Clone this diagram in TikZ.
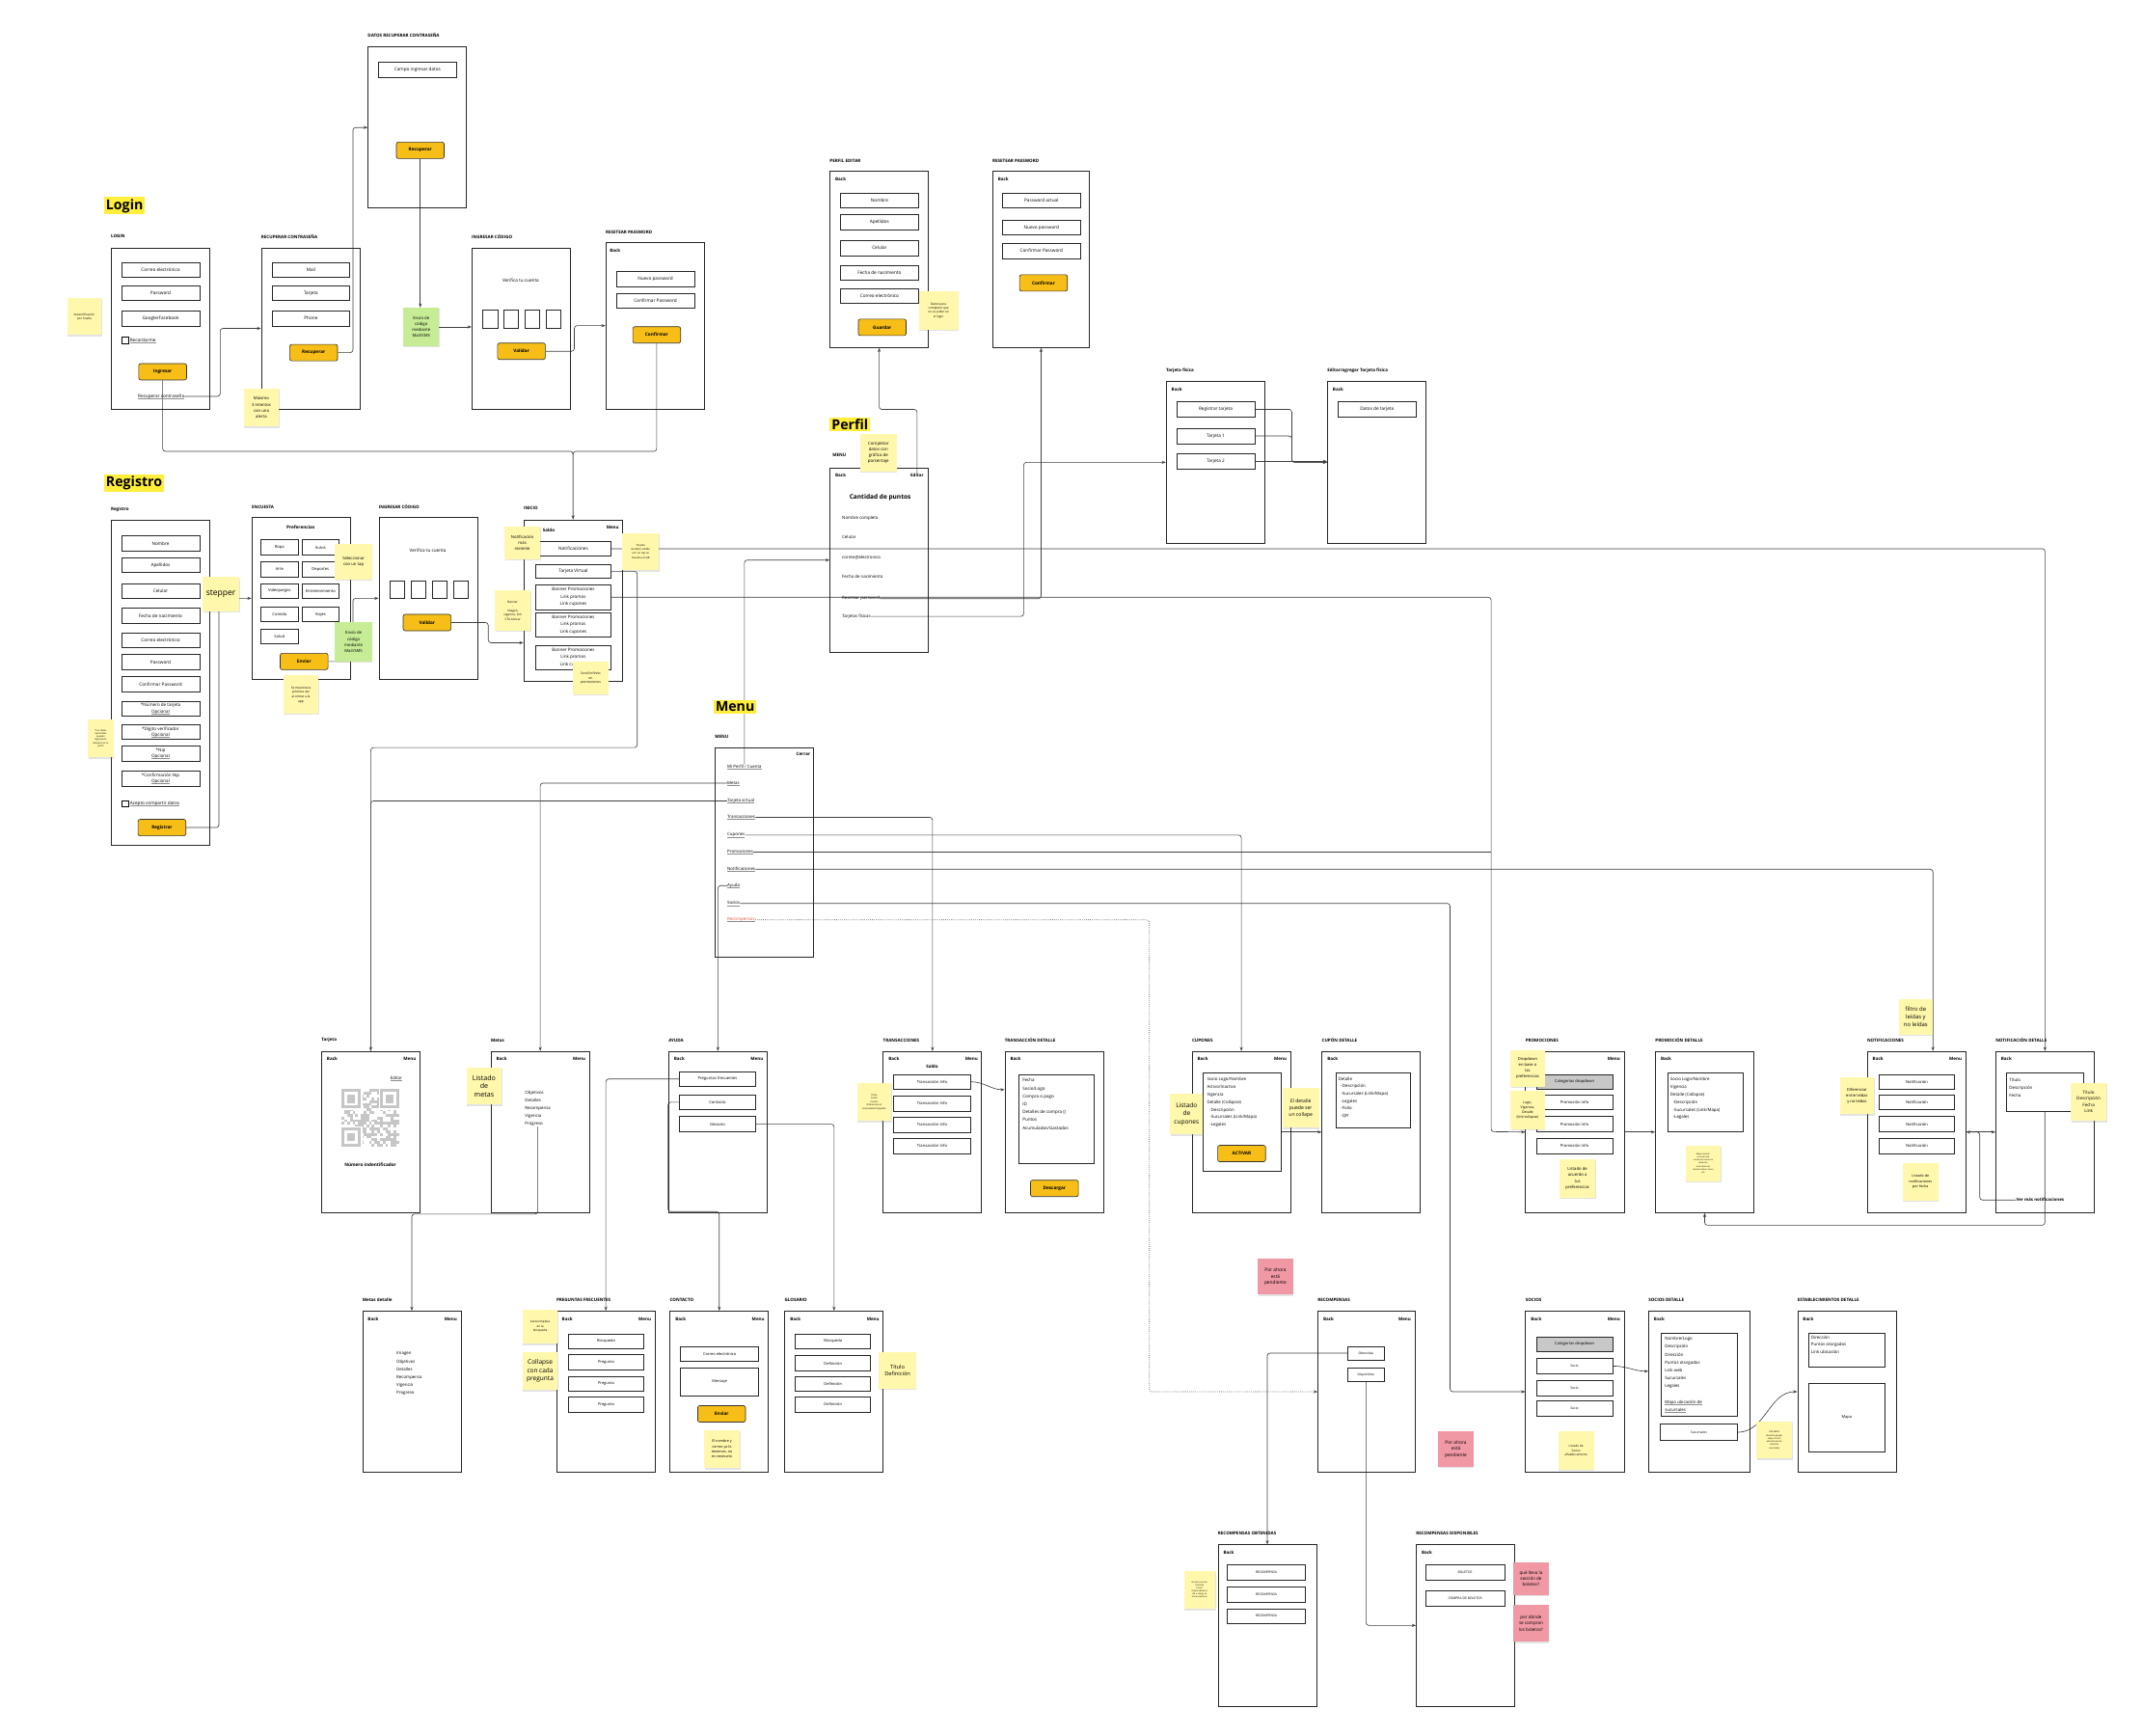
\documentclass[tikz,border=0pt]{standalone}
\usepackage{fontspec}
\setmainfont{Open Sans}
\usetikzlibrary{arrows.meta,shadows,positioning}
\pgfdeclarelayer{bg}
\pgfsetlayers{bg,main}
\definecolor{btnyellow}{RGB}{246,190,22}
\definecolor{noteyellow}{RGB}{255,248,172}
\definecolor{notegreen}{RGB}{198,236,150}
\definecolor{notepink}{RGB}{240,152,164}
\definecolor{titleyellow}{RGB}{255,238,60}
\definecolor{linkred}{RGB}{222,86,60}
\definecolor{qrgray}{RGB}{198,198,198}
\definecolor{dropgray}{RGB}{200,200,200}
\newcommand{\fnt}[2]{\fontsize{#1}{#2}\selectfont}
\newcommand{\undl}[1]{\leavevmode\setbox0\hbox{#1}\rlap{\color{black!45}\rule[-0.3ex]{\wd0}{0.05ex}}\box0}
\tikzset{
  screen/.style={draw=black!85, line width=0.55pt, anchor=north west, minimum width=72pt, minimum height=118pt, inner sep=0pt},
  scrlabel/.style={anchor=west, inner sep=0pt, font=\fnt{3.2}{4}\bfseries},
  topl/.style={anchor=west, inner sep=0pt, font=\fnt{3.2}{4}\bfseries},
  topr/.style={anchor=east, inner sep=0pt, font=\fnt{3.2}{4}\bfseries},
  field/.style={draw=black!85, line width=0.45pt, minimum width=57pt, minimum height=11pt, inner sep=0pt, align=center, font=\fnt{3.3}{4.2}},
  btn/.style={draw=black!80, fill=btnyellow, line width=0.45pt, rounded corners=1.5pt, minimum width=35pt, minimum height=12pt, inner sep=0pt, font=\fnt{3.3}{4}\bfseries},
  txt/.style={inner sep=0pt, font=\fnt{3.3}{4.2}},
  block/.style={anchor=north west, inner sep=0pt, align=left, font=\fnt{3.2}{5.8}},
  innerbox/.style={draw=black!85, line width=0.45pt, anchor=north west, inner sep=0pt},
  chk/.style={draw, line width=0.4pt, minimum size=4.5pt, inner sep=0pt},
  sq/.style={draw=black!85, line width=0.45pt, minimum width=11pt, minimum height=13pt, inner sep=0pt},
  note/.style={fill=noteyellow, anchor=north west, inner sep=0pt, align=center, minimum width=26pt, minimum height=27pt, font=\fnt{3}{4.4}, drop shadow={shadow xshift=0.4pt, shadow yshift=-0.9pt, opacity=0.22}},
  sectitle/.style={fill=titleyellow, anchor=north west, inner sep=1.4pt, font=\fnt{10}{11}\bfseries},
  conn/.style={draw=black!75, line width=0.45pt, rounded corners=2pt, -{Stealth[length=3pt,width=2.2pt]}},
  wire/.style={draw=black!75, line width=0.45pt, rounded corners=2pt}
}

\begin{document}
\begin{tikzpicture}[x=1pt,y=-1pt]
\useasboundingbox (0,0) rectangle (1568,1270);
\begin{pgfonlayer}{bg}
\fill[white] (0,0) rectangle (1568,1270);
\end{pgfonlayer}

% Login
\node[sectitle] (t-login) at (76,144) {Login};
\node[scrlabel] (l-login) at (81,173) {LOGIN};
\node[screen] (login) at (81,181) {};
\node[field] (lg-mail) at (117.5,197.5) {Correo electrónico};
\node[field] (lg-pass) at (117.5,214.5) {Password};
\node[field] (lg-goog) at (117.5,233) {Google/Facebook};
\node[chk] (lg-chk) at (91.5,249) {};
\node[txt, right=1pt of lg-chk] (lg-rec) {\undl{Recordarme}};
\node[btn] (lg-btn) at (119,272) {Ingresar};
\node[txt] (lg-forgot) at (118,290) {\undl{Recuperar contraseña}};
\node[note, minimum width=25pt, font=\fnt{2.2}{3}] (n-huella) at (49,218) {Autentificación\\por huella};

\node[scrlabel] (l-recup) at (191,173) {RECUPERAR CONTRASEÑA};
\node[screen] (recup) at (191,181) {};
\node[field] (rc-mail) at (227.5,197.5) {Mail};
\node[field] (rc-tarj) at (227.5,214.5) {Tarjeta};
\node[field] (rc-phone) at (227.5,233) {Phone};
\node[btn] (rc-btn) at (229.5,258) {Recuperar};
\node[note, minimum height=28pt] (n-max) at (178,284) {Máximo\\3 intentos\\con una\\alerta};

\node[scrlabel] (l-datos) at (269,26) {DATOS RECUPERAR CONTRASEÑA};
\node[screen] (datos) at (269,34) {};
\node[field] (dt-campo) at (305.5,51) {Campo ingresar datos};
\node[btn] (dt-btn) at (307.5,110) {Recuperar};
\node[note, fill=notegreen, minimum height=28pt] (n-sms1) at (295,225) {Envío de\\código\\mediante\\Mail/SMS};

\node[scrlabel] (l-code1) at (345,173) {INGRESAR CÓDIGO};
\node[screen] (code1) at (345,181) {};
\node[txt] (cd1-txt) at (381,205) {Verifica tu cuenta};
\foreach \i in {0,...,3}
  \node[sq] (cd1-sq\i) at (358.5+15.5*\i,233.5) {};
\node[btn] (cd1-btn) at (381.5,257) {Validar};

\node[scrlabel] (l-reset1) at (443,170) {RESETEAR PASSWORD};
\node[screen, minimum height=122pt] (reset1) at (443,177) {};
\node[topl] (rs1-back) at (446,183) {Back};
\node[field] (rs1-new) at (479.5,204) {Nuevo password};
\node[field] (rs1-conf) at (479.5,220) {Confirmar Password};
\node[btn] (rs1-btn) at (480.5,245) {Confirmar};

% Registro
\node[sectitle] (t-reg) at (76,347) {Registro};
\node[scrlabel] (l-reg) at (81,373) {Registro};
\node[screen, minimum height=238pt] (registro) at (81,380) {};
\foreach \nm/\tx/\yy in {nom/Nombre/397.5, ape/Apellidos/413.5, cel/Celular/432.5, fec/Fecha de nacimiento/450.5, mail/Correo electrónico/468.5, pass/Password/484.5, conf/Confirmar Password/500.5}
  \node[field] (rg-\nm) at (117.5,\yy) {\tx};
\foreach \nm/\tx/\yy in {tarj/*Número de tarjeta/518.5, dig/*Dígito verificador/535.5, nip/*Nip/551.5, cnip/*Confirmación Nip/569.5}
  \node[field, font=\fnt{3.2}{4.3}] (rg-\nm) at (117.5,\yy) {\tx\\\undl{Opcional}};
\node[chk] (rg-chk) at (91.5,588) {};
\node[txt, right=1pt of rg-chk] (rg-acept) {\undl{Acepto compartir datos}};
\node[btn] (rg-btn) at (118.5,605.5) {Registrar};
\node[note, minimum width=27pt, minimum height=25pt, font=\fnt{6}{7}] (n-stepper) at (148,422) {stepper};
\node[note, minimum width=19pt, minimum height=28pt, font=\fnt{1.7}{2.3}] (n-opc) at (64,526) {*Los datos\\opcionales\\pueden\\ingresarlos\\después en tu\\perfil};

\node[scrlabel] (l-enc) at (184,371) {ENCUESTA};
\node[screen, minimum height=119pt] (encuesta) at (184,378) {};
\node[txt, font=\fnt{3.3}{4}\bfseries] (en-pref) at (220,386) {Preferencias};
\foreach \nm/\tx/\xx/\yy in {ropa/Ropa/204.5/400.5, autos/Autos/234.5/400.5, arte/Arte/204.5/416.5, dep/Deportes/234.5/416.5, video/Videojuegos/204.5/432.5, entre/Entretenimiento/234.5/432.5, com/Comida/204.5/449.5, viaj/Viajes/234.5/449.5, salud/Salud/204.5/465.5}
  \node[field, minimum width=27pt, font=\fnt{2.9}{4}] (en-\nm) at (\xx,\yy) {\tx};
\node[btn] (en-btn) at (222.5,484) {Enviar};
\node[note, minimum width=27pt, minimum height=26pt] (n-tap) at (245,398) {Seleccionar\\con un tap};
\node[note, fill=notegreen, minimum width=27pt, minimum height=29pt] (n-sms2) at (245,455) {Envío de\\código\\mediante\\Mail/SMS};
\node[note, minimum height=28pt, font=\fnt{2.3}{3.3}] (n-prim) at (207,494) {Se muestra la\\primera vez\\al entrar a la\\app};

\node[scrlabel] (l-code2) at (277,371) {INGRESAR CÓDIGO};
\node[screen, minimum height=119pt] (code2) at (277,378) {};
\node[txt] (cd2-txt) at (313,403) {Verifica tu cuenta};
\foreach \i in {0,...,3}
  \node[sq] (cd2-sq\i) at (290.5+15.6*\i,431.5) {};
\node[btn] (cd2-btn) at (312.5,455.5) {Validar};

\node[scrlabel] (l-inicio) at (383,372) {INICIO};
\node[screen] (inicio) at (383,380) {};
\node[topl] (in-saldo) at (397,388) {Saldo};
\node[topr] (in-menu) at (453,386) {Menu};
\node[field, minimum width=55pt] (in-notif) at (419.5,401.5) {Notificaciones};
\node[field, minimum width=55pt, minimum height=10pt] (in-tv) at (419.5,418) {Tarjeta Virtual};
\foreach \i/\yy in {1/437, 2/457, 3/481}
  \node[field, minimum width=55pt, minimum height=18pt, font=\fnt{3.2}{5.3}] (in-ban\i) at (419.5,\yy) {Banner Promociones\\Link promos\\Link cupones};
\node[note, minimum height=24pt] (n-reciente) at (369,385) {Notificación\\más\\reciente};
\node[note, minimum width=27pt, font=\fnt{2}{2.9}] (n-qr) at (455,390) {Tarjeta\\siempre visible\\con un tap se\\muestra el QR};
\node[note, minimum height=29pt, font=\fnt{2.2}{3.2}] (n-banner) at (362,432) {Banner\\-\\Imagen,\\vigencia, link\\CTA Activar};
\node[note, minimum height=24pt, font=\fnt{2.4}{3.4}] (n-scroll) at (419,484) {Scroll infinito\\en\\promociones};

% Menu
\node[sectitle] (t-menu) at (522,512) {Menu};
\node[scrlabel] (l-menu) at (523,539) {MENU};
\node[screen, minimum height=153pt] (menu) at (523,547) {};
\node[topr] (mn-cerrar) at (593,552) {Cerrar};
\foreach \nm/\tx/\yy in {perfil/{Mi Perfil / Cuenta}/561, metas/Metas/573, tv/Tarjeta virtual/586, trans/Transacciones/598, cup/Cupones/611, promo/Promociones/623, notif/Notificaciones/636, ayuda/Ayuda/648, socios/Socios/661}
  \node[txt, anchor=west, font=\fnt{3.1}{4}] (mn-\nm) at (532,\yy) {\undl{\tx}};
\node[txt, anchor=west, font=\fnt{3.1}{4}, text=linkred] (mn-recomp) at (532,673) {\undl{Recompensas}};

% Perfil
\node[sectitle] (t-perfil) at (607,305) {Perfil};
\node[scrlabel] (l-perfil) at (609,333) {MENU};
\node[screen, minimum height=135pt] (perfil) at (607,342) {};
\node[topr] (pf-editar) at (676,348) {Editar};
\node[txt, font=\fnt{4.6}{5}\bfseries] (pf-puntos) at (644,364) {Cantidad de puntos};
\foreach \nm/\tx/\yy in {nom/Nombre completo/379, cel/Celular/393, mail/correo@electronico/408, fec/Fecha de nacimiento/422, reset/Resetear password/438, tf/Tarjetas físicas/451}
  \node[txt, anchor=west, font=\fnt{3.1}{4}] (pf-\nm) at (616,\yy) {\tx};
\node[note, minimum width=27pt, minimum height=28pt, font=\fnt{3.1}{4.4}] (n-compl) at (629,317) {Completar\\datos con\\gráfica de\\porcentaje};

\node[scrlabel] (l-pedit) at (607,118) {PERFIL EDITAR};
\node[screen, minimum height=129pt] (pedit) at (607,125) {};
\foreach \nm/\tx/\yy in {nom/Nombre/146.5, ape/Apellidos/162.5, cel/Celular/181.5, fec/Fecha de nacimiento/199.5, mail/Correo electrónico/216.5}
  \node[field] (pe-\nm) at (643.5,\yy) {\tx};
\node[btn] (pe-btn) at (645.5,239.5) {Guardar};
\node[note, minimum width=29pt, minimum height=28pt, font=\fnt{2.2}{3.1}] (n-datos) at (672,213) {Datos para\\completar que\\no se piden en\\el login};

\node[scrlabel] (l-reset2) at (726,118) {RESETEAR PASSWORD};
\node[screen, minimum height=129pt, minimum width=71pt] (reset2) at (726,125) {};
\node[field] (rs2-act) at (762,146.5) {Password actual};
\node[field] (rs2-new) at (762,166.5) {Nuevo password};
\node[field] (rs2-conf) at (762,183.5) {Confirmar Password};
\node[btn] (rs2-btn) at (763.5,207) {Confirmar};

\node[scrlabel] (l-tfis) at (853,271) {Tarjeta física};
\node[screen] (tfis) at (853,279) {};
\node[field] (tf-reg) at (889.5,299.5) {Registrar tarjeta};
\node[field] (tf-1) at (889.5,319) {Tarjeta 1};
\node[field] (tf-2) at (889.5,337.5) {Tarjeta 2};
\node[scrlabel] (l-tfedit) at (971,271) {Editar/agregar Tarjeta física};
\node[screen] (tfedit) at (971,279) {};
\node[field] (te-datos) at (1007.5,299.5) {Datos de tarjeta};

% fila 1
\node[scrlabel] (l-tarjeta) at (235,761) {Tarjeta};
\node[screen] (tarjeta) at (235,769) {};
\node[txt, font=\fnt{3.1}{4}] (tj-editar) at (290,789) {\undl{Editar}};
\pgfmathsetseed{7}
\foreach \i in {0,...,20}
  \foreach \j in {0,...,20}{
    \pgfmathtruncatemacro{\qb}{rnd<0.5 ? 1 : 0}
    \ifnum\qb=1 \fill[qrgray] (250+2*\i,797+2*\j) rectangle ++(2,2); \fi
  }
\foreach \qx/\qy in {250/797, 278/797, 250/825}{
  \fill[white] (\qx-1,\qy-1) rectangle ++(16,16);
  \fill[qrgray] (\qx,\qy) rectangle ++(14,14);
  \fill[white] (\qx+2,\qy+2) rectangle ++(10,10);
  \fill[qrgray] (\qx+4,\qy+4) rectangle ++(6,6);
}
\node[txt, font=\fnt{3.3}{4}\bfseries] (tj-num) at (271,852) {Número indentificador};

\node[scrlabel] (l-metas) at (359,761) {Metas};
\node[screen] (metas) at (359,769) {};
\node[block, font=\fnt{3.1}{5.7}] (mt-list) at (384,798) {Objetivos\\Detalles\\Recompensa\\Vigencia\\Progreso};
\node[note, font=\fnt{5}{6.2}] (n-metas) at (341,781) {Listado\\de\\metas};

\node[scrlabel] (l-ayuda) at (489,761) {AYUDA};
\node[screen] (ayuda) at (489,769) {};
\node[field, minimum width=56pt, font=\fnt{2.9}{4}] (ay-preg) at (525,789.5) {Preguntas frecuentes};
\node[field, minimum width=56pt, font=\fnt{2.9}{4}] (ay-cont) at (525,806.5) {Contacto};
\node[field, minimum width=56pt, font=\fnt{2.9}{4}] (ay-glos) at (525,822.5) {Glosario};

\node[scrlabel] (l-trans) at (646,761) {TRANSACCIONES};
\node[screen] (trans) at (646,769) {};
\node[txt, font=\fnt{3.2}{4}\bfseries] (tr-saldo) at (682,780) {Saldo};
\foreach \i/\yy in {1/791.5, 2/807.5, 3/823, 4/838.5}
  \node[field, minimum width=56pt, font=\fnt{2.9}{4}] (tr-\i) at (682,\yy) {Transacción Info};
\node[note, minimum width=25pt, minimum height=28pt, font=\fnt{1.7}{2.5}] (n-trans) at (627,792) {Título\\Fecha\\Puntos\\Diferenciar en\\Acumulado/Canjeado};

\node[scrlabel] (l-trdet) at (735,761) {TRANSACCIÓN DETALLE};
\node[screen] (trdet) at (735,769) {};
\node[innerbox, minimum width=55pt, minimum height=65pt] (td-inner) at (745,786) {};
\node[block] (td-list) at (748,789) {Fecha\\Socio/Logo\\Compra o pago\\ID\\Detalles de compra ()\\Puntos\\Acumulados/Gastados};
\node[btn] (td-btn) at (771.5,869.5) {Descargar};

\node[scrlabel] (l-cup) at (872,761) {CUPONES};
\node[screen] (cupones) at (872,769) {};
\node[innerbox, minimum width=57pt, minimum height=72pt] (cp-inner) at (880,785) {};
\node[block, font=\fnt{3.1}{5.6}] (cp-list) at (883,788) {Socio Logo/Nombre\\Activo/Inactivo\\Vigencia\\Detalle (Collapse)\\\hspace*{2pt}-Descripción\\\hspace*{2pt}-Sucursales (Link/Mapa)\\\hspace*{2pt}-Legales};
\node[btn] (cp-btn) at (908.5,844) {ACTIVAR};
\node[note, minimum width=24pt, minimum height=30pt, font=\fnt{4.6}{6}] (n-cuplist) at (856,800) {Listado\\de\\cupones};
\node[note, minimum width=27pt, minimum height=29pt, font=\fnt{3.6}{5}] (n-cupdet) at (938,796) {El detalle\\puede ser\\un collape};

\node[scrlabel] (l-cupdet) at (967,761) {CUPÓN DETALLE};
\node[screen] (cupdet) at (967,769) {};
\node[innerbox, minimum width=55pt, minimum height=40pt] (cd-inner) at (977,785) {};
\node[block, font=\fnt{3.1}{5.4}] (cd-list) at (979,788) {Detalle\\\hspace*{2pt}-Descripción\\\hspace*{2pt}-Sucursales (Link/Mapa)\\\hspace*{2pt}-Legales\\\hspace*{2pt}-Folio\\\hspace*{2pt}-QR};

\node[scrlabel] (l-promo) at (1116,761) {PROMOCIONES};
\node[screen] (promo) at (1116,769) {};
\node[field, minimum width=56pt, fill=dropgray, font=\fnt{2.9}{4}] (pr-cat) at (1152,791.5) {Categorías dropdown};
\foreach \i/\yy in {1/806.5, 2/822.5, 3/838.5}
  \node[field, minimum width=56pt, font=\fnt{2.9}{4}] (pr-\i) at (1152,\yy) {Promoción Info};

\node[scrlabel] (l-promodet) at (1211,761) {PROMOCIÓN DETALLE};
\node[screen] (promodet) at (1211,769) {};
\node[innerbox, minimum width=55pt, minimum height=43pt] (pd-inner) at (1220,785) {};
\node[block, font=\fnt{3.1}{5.6}] (pd-list) at (1222,788) {Socio Logo/Nombre\\Vigencia\\Detalle (Collapse)\\\hspace*{2pt}-Descripción\\\hspace*{2pt}-Sucursales (Link/Mapa)\\\hspace*{2pt}-Legales};
\node[note, minimum height=26pt, font=\fnt{1.5}{2.2}] (n-mapa) at (1233,838) {Mapa mostrar\\sucursal más\\cercana en base a la\\ubicación,\\mostrando las\\demás al hacer zoom\\out.};

\node[scrlabel] (l-notif) at (1366,761) {NOTIFICACIONES};
\node[screen] (notif) at (1366,769) {};
\foreach \i/\yy in {1/791.5, 2/806.5, 3/822.5, 4/838.5}
  \node[field, minimum width=55pt, font=\fnt{2.9}{4}] (nt-\i) at (1402.5,\yy) {Notificación};

\node[scrlabel] (l-notdet) at (1460,761) {NOTIFICACIÓN DETALLE};
\node[screen] (notdet) at (1460,769) {};
\node[innerbox, minimum width=56pt, minimum height=28pt] (nd-inner) at (1468,785) {};
\node[block, font=\fnt{3.1}{5.6}] (nd-list) at (1470,789) {Título\\Descripción\\Fecha};
\node[txt, anchor=west, font=\fnt{3.1}{4}\bfseries] (nd-vermas) at (1475,878) {Ver más notificaciones};

% fila 2
\node[scrlabel] (l-metasdet) at (265,951) {Metas detalle};
\node[screen] (metasdet) at (265,959) {};
\node[block, font=\fnt{3.1}{5.7}] (md-list) at (290,989) {Imagen\\Objetivos\\Detalles\\Recompensa\\Vigencia\\Progreso};

\node[scrlabel] (l-preg) at (407,951) {PREGUNTAS FRECUENTES};
\node[screen] (preg) at (407,959) {};
\node[field, minimum width=55pt, font=\fnt{2.8}{4}] (pq-busq) at (443.5,981.5) {Búsqueda};
\foreach \i/\yy in {1/996.5, 2/1012.5, 3/1027.5}
  \node[field, minimum width=55pt, font=\fnt{2.8}{4}] (pq-\i) at (443.5,\yy) {Pregunta};

\node[scrlabel] (l-cont) at (490,951) {CONTACTO};
\node[screen] (cont) at (490,959) {};
\node[field, font=\fnt{2.8}{4}] (ct-mail) at (526.5,990.5) {Correo electrónico};
\node[field, minimum height=20pt, font=\fnt{2.8}{4}] (ct-msg) at (526.5,1011) {Mensaje};
\node[btn] (ct-btn) at (528,1034.5) {Enviar};

\node[scrlabel] (l-glos) at (574,951) {GLOSARIO};
\node[screen] (glos) at (574,959) {};
\node[field, minimum width=55pt, font=\fnt{2.8}{4}] (gl-busq) at (609.5,981.5) {Búsqueda};
\foreach \i/\yy in {1/997.5, 2/1012.5, 3/1027.5}
  \node[field, minimum width=55pt, font=\fnt{2.8}{4}] (gl-\i) at (609.5,\yy) {Definición};

\node[scrlabel] (l-recomp) at (964,951) {RECOMPENSAS};
\node[screen, minimum width=71pt] (recomp) at (964,959) {};
\node[field, minimum width=27pt, minimum height=10pt, font=\fnt{2.3}{3}] (rc-obt) at (999.5,990) {Obtenidas};
\node[field, minimum width=27pt, minimum height=10pt, font=\fnt{2.3}{3}] (rc-disp) at (999.5,1006) {Disponibles};

\node[scrlabel] (l-socios) at (1116,951) {SOCIOS};
\node[screen] (socios) at (1116,959) {};
\node[field, minimum width=56pt, fill=dropgray, font=\fnt{2.9}{4}] (so-cat) at (1152,983.5) {Categorías dropdown};
\foreach \i/\yy in {1/999.5, 2/1015.5, 3/1030.5}
  \node[field, minimum width=56pt, font=\fnt{2.4}{3}] (so-\i) at (1152,\yy) {Socio};

\node[scrlabel] (l-socdet) at (1206,951) {SOCIOS DETALLE};
\node[screen, minimum width=74pt] (socdet) at (1206,959) {};
\node[innerbox, minimum width=56pt, minimum height=61pt] (sd-inner) at (1215,975) {};
\node[block, font=\fnt{3.1}{5.8}] (sd-list) at (1218,978) {Nombre/Logo\\Descripción\\Dirección\\Puntos otorgados\\Link web\\Sucursales\\Legales\\[5.8pt]\undl{Mapa ubicación de}\\\undl{sucursales}};
\node[field, minimum width=56pt, minimum height=12pt, font=\fnt{2.4}{3}] (sd-suc) at (1243,1048) {Sucursales};

\node[scrlabel] (l-estdet) at (1315,951) {ESTABLECIMIENTOS DETALLE};
\node[screen] (estdet) at (1315,959) {};
\node[innerbox, minimum width=56pt, minimum height=25pt] (es-inner) at (1323,975) {};
\node[block, font=\fnt{3.1}{5.5}] (es-list) at (1325,977) {Dirección\\Puntos otorgados\\Link ubicación};
\node[innerbox, minimum width=56pt, minimum height=50pt, font=\fnt{2.8}{4}] (es-mapa) at (1323,1012) {Mapa};

% fila 3
\node[scrlabel] (l-robt) at (891,1122) {RECOMPENSAS OBTENIDAS};
\node[screen] (robt) at (891,1130) {};
\foreach \i/\yy in {1/1150.5, 2/1166.5, 3/1182.5}
  \node[field, font=\fnt{2.4}{3}] (ro-\i) at (926.5,\yy) {RECOMPENSA};
\node[scrlabel] (l-rdisp) at (1036,1122) {RECOMPENSAS DISPONIBLES};
\node[screen] (rdisp) at (1036,1130) {};
\node[field, minimum width=58pt, font=\fnt{2.4}{3}] (rd-bol) at (1072,1150.5) {BOLETOS};
\node[field, minimum width=58pt, font=\fnt{2.4}{3}] (rd-compra) at (1072,1169.5) {COMPRA DE BOLETOS};

% Back / Menu
\foreach \scrn in {tarjeta,metas,ayuda,trans,cupones,promo,notif,metasdet,preg,cont,glos,recomp,socios}
  \node[topr] (\scrn-menu) at ([shift={(-3,6)}]\scrn.north east) {Menu};
\foreach \scrn in {tarjeta,metas,ayuda,trans,trdet,cupones,cupdet,promo,promodet,notif,notdet,metasdet,preg,cont,glos,recomp,socios,socdet,estdet,robt,rdisp,pedit,reset2,tfis,tfedit,perfil}
  \node[topl] (\scrn-back) at ([shift={(4,6)}]\scrn.north west) {Back};

% notas abajo
\node[note, minimum width=25pt, font=\fnt{2.9}{4.2}] (n-drop) at (1105,768) {Dropdown\\en base a\\las\\preferencias};
\node[note, minimum width=25pt, minimum height=28pt, font=\fnt{2.5}{3.6}] (n-logo) at (1105,798) {Logo,\\Vigencia,\\Detalle\\(link/collapse)};
\node[note, minimum height=28pt] (n-promlist) at (1141,848) {Listado de\\acuerdo a\\tus\\preferencias};
\node[note, minimum width=25pt, font=\fnt{2.9}{4.2}] (n-dif) at (1346,788) {Diferenciar\\entre leídas\\y no leídas};
\node[note, font=\fnt{2.6}{3.8}] (n-notlist) at (1392,851) {Listado de\\notificaciones\\por fecha};
\node[note, minimum width=25pt, minimum height=26pt, font=\fnt{4.2}{5.6}] (n-filtro) at (1389,731) {filtro de\\leídas y\\no leídas};
\node[note, minimum height=28pt, font=\fnt{3.2}{4.6}] (n-ndet) at (1515,792) {Título\\Descripción\\Fecha\\Link};
\node[note, minimum height=25pt, font=\fnt{2.2}{3.2}] (n-auto) at (382,958) {Autocompleta\\en la\\búsqueda};
\node[note, minimum height=28pt, font=\fnt{4.6}{6}] (n-coll) at (382,989) {Collapse\\con cada\\pregunta};
\node[note, minimum height=28pt, font=\fnt{2.6}{3.8}] (n-cont) at (515,1046) {El nombre y\\correo ya lo\\tenemos, no\\es necesario};
\node[note, minimum width=27pt, font=\fnt{4}{5.4}] (n-glos) at (643,989) {Título\\Definición};
\node[note, fill=notepink, minimum height=26pt, font=\fnt{3.4}{4.6}] (n-pend1) at (920,921) {Por ahora\\está\\pendiente};
\node[note, fill=notepink, minimum height=26pt, font=\fnt{3.4}{4.6}] (n-pend2) at (1052,1047) {Por ahora\\está\\pendiente};
\node[note, minimum height=28pt, font=\fnt{2.2}{3.2}] (n-socios) at (1140,1047) {Listado de\\Socios\\alfabéticamente};
\node[note, font=\fnt{1.6}{2.3}] (n-vermapa) at (1285,1040) {VER MAPA\\Muestra google\\maps con las\\ubicaciones de\\todas las\\sucursales};
\node[note, minimum width=23pt, minimum height=28pt, font=\fnt{1.5}{2.2}] (n-robt) at (866,1149) {Nombre artículo\\Cantidad\\Puntos\\Detalle (Boletos)\\QR o código de\\barras (Boletos)};
\node[note, fill=notepink, minimum height=24pt, font=\fnt{3.2}{4.4}] (n-bol1) at (1107,1143) {qué lleva la\\sección de\\boletos?};
\node[note, fill=notepink, font=\fnt{3.2}{4.4}] (n-bol2) at (1107,1174) {por dónde\\se compran\\los boletos?};

% conectores
\begin{pgfonlayer}{bg}
\draw[conn] (lg-forgot.east) -- ++(26,0) |- (recup.west);
\draw[conn] (rc-btn.east) -- ++(11,0) |- (datos.west);
\draw[conn] (dt-btn.south) -- (dt-btn.south |- n-sms1.north);
\draw[conn] (n-sms1.east) -- (n-sms1.east -| code1.west);
\draw[conn] (cd1-btn.east) -- ++(21,0) |- (reset1.west);
\draw[conn] (lg-btn.south) -- ++(0,52) -| (inicio.north);
\draw[wire] (rs1-btn.south) -- ++(0,79) -| (inicio.north);
\draw[conn] (rg-btn.east) -- ++(24,0) |- (encuesta.west);
\draw[conn] (en-btn.east) -- ++(18,0) |- (code2.west);
\draw[conn] (cd2-btn.east) -- ++(27,0) |- ([yshift=-31pt]inicio.west);
\draw[conn] (in-notif.east) -| (notdet.north);
\draw[conn] (in-tv.east) -- ++(19,0) -- ++(0,129) -| (tarjeta.north);
\coordinate (promobus) at (1091,828);
\draw[conn] (in-ban1.east) -| (promobus) -- (promo.west);
\draw[wire] (mn-promo.east) -- (mn-promo.east -| promobus);
\draw[conn] (mn-perfil.north) |- (perfil.west);
\draw[conn] (mn-metas.west) -| (metas.north);
\draw[wire] (mn-tv.west) -| (tarjeta.north);
\draw[conn] (mn-trans.east) -| (trans.north);
\draw[conn] (mn-cup.east) -| (cupones.north);
\draw[conn] (mn-notif.east) -| ([xshift=12pt]notif.north);
\draw[conn] (mn-ayuda.west) -| (ayuda.north);
\draw[conn] (mn-socios.east) -| ([xshift=-55pt]socios.west) -- (socios.west);
\draw[conn, densely dotted] (mn-recomp.east) -| ([xshift=-123pt]recomp.west) -- (recomp.west);
\draw[conn] (pf-editar.north) -- ++(0,-47) -| (pedit.south);
\draw[conn] (pf-reset.east) -| (reset2.south);
\draw[conn] (pf-tf.east) -| ([xshift=-104pt]tfis.west) -- (tfis.west);
\draw[conn] (tf-reg.east) -- ++(27,0) |- (tfedit.west);
\draw[conn] (tf-1.east) -- ++(27,0) |- (tfedit.west);
\draw[conn] (tf-2.east) -- (tf-2.east -| tfedit.west);
\draw[conn] (mt-list.south) -- ++(0,64) -| (metasdet.north);
\draw[conn] (ay-preg.west) -| (preg.north);
\draw[conn] (ay-cont.west) -- ++(-8,0) -- ++(0,80) -| (cont.north);
\draw[conn] (ay-glos.east) -| (glos.north);
\draw[conn] (tr-1.east) to[out=0,in=180] ([yshift=31pt]trdet.west);
\draw[conn] (cp-inner.east |- cupdet.west) -- (cupdet.west);
\draw[conn] (promo.east) -- (promodet.west);
\draw[conn] (notif.east) -- (notdet.west);
\draw[conn] (nd-vermas.west) -| ([xshift=10pt]notif.east) -- (notif.east);
\draw[conn] (nd-inner.south) -- ++(0,83) -| (promodet.south);
\draw[conn] (rc-obt.west) -| (robt.north);
\draw[conn] (rc-disp.south) |- (rdisp.west);
\draw[conn] (so-1.east) to[out=0,in=180] ([yshift=15pt]socdet.west);
\draw[conn] (sd-suc.east) to[out=0,in=180] (estdet.west);
\end{pgfonlayer}
\end{tikzpicture}
\end{document}
